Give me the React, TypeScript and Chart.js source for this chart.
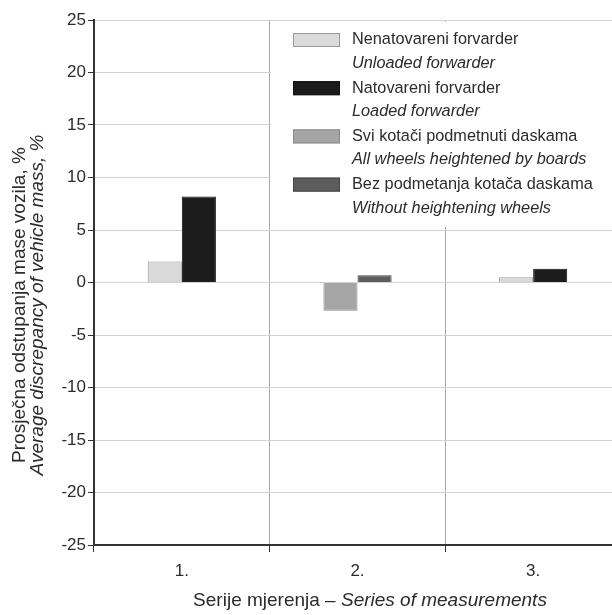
import React, { useEffect, useRef } from "react";
import { Chart, registerables } from "chart.js";

Chart.register(...registerables);

const categories = ["1.", "2.", "3."];
const seriesHr = [
  "Nenatovareni forvarder",
  "Natovareni forvarder",
  "Svi kotači podmetnuti daskama",
  "Bez podmetanja kotača daskama",
];
const seriesEn = [
  "Unloaded forwarder",
  "Loaded forwarder",
  "All wheels heightened by boards",
  "Without heightening wheels",
];
const unloaded = [2.0, null, 0.5];
const loaded = [8.2, null, 1.3];
const allWheels = [null, -2.7, null];
const withoutHeightening = [null, 0.7, null];
const yMin = -25;
const yMax = 25;
const yStep = 5;
const yTitleHr = "Prosječna odstupanja mase vozila, %";
const yTitleEn = "Average discrepancy of vehicle mass, %";
const xTitleHr = "Serije mjerenja – ";
const xTitleEn = "Series of measurements";

const fills = ["#dadada", "#1c1c1c", "#a5a5a5", "#5d5d5d"];
const borders = ["#9a9a9a", "#111111", "#8a8a8a", "#444444"];
const FONT = "'Liberation Sans', Arial, sans-serif";
const TEXT = "#2b2b2b";

const decorPlugin = {
  id: "decor",
  afterDraw(chart: any) {
    const ctx = chart.ctx;
    const area = chart.chartArea;
    ctx.save();
    // legend background
    ctx.fillStyle = "#ffffff";
    ctx.fillRect(271, 22, area.right - 271 + 2, 205);
    // legend entries
    for (let i = 0; i < seriesHr.length; i++) {
      const cy = 40 + i * 48.2;
      ctx.fillStyle = fills[i];
      ctx.fillRect(293, cy - 7, 47, 14);
      ctx.strokeStyle = borders[i];
      ctx.lineWidth = 1;
      ctx.strokeRect(293.5, cy - 6.5, 46, 13);
      ctx.fillStyle = TEXT;
      ctx.textBaseline = "middle";
      ctx.textAlign = "left";
      ctx.font = `16.3px ${FONT}`;
      ctx.fillText(seriesHr[i], 352, cy);
      ctx.font = `italic 16.3px ${FONT}`;
      ctx.fillText(seriesEn[i], 352, cy + 23.5);
    }
    // y title
    ctx.save();
    ctx.translate(20, 305);
    ctx.rotate(-Math.PI / 2);
    ctx.textAlign = "center";
    ctx.textBaseline = "middle";
    ctx.fillStyle = TEXT;
    ctx.font = `19px ${FONT}`;
    ctx.fillText(yTitleHr, 0, 0);
    ctx.font = `italic 19px ${FONT}`;
    ctx.fillText(yTitleEn, 0, 18);
    ctx.restore();
    // x title
    ctx.textBaseline = "middle";
    ctx.textAlign = "left";
    ctx.font = `19px ${FONT}`;
    const w1 = ctx.measureText(xTitleHr).width;
    ctx.font = `italic 19px ${FONT}`;
    const w2 = ctx.measureText(xTitleEn).width;
    const startX = 370 - (w1 + w2) / 2;
    ctx.font = `19px ${FONT}`;
    ctx.fillText(xTitleHr, startX, 601);
    ctx.font = `italic 19px ${FONT}`;
    ctx.fillText(xTitleEn, startX + w1, 601);
    ctx.restore();
  },
};

export default function App() {
  const ref = useRef<HTMLCanvasElement | null>(null);

  useEffect(() => {
    if (!ref.current) return;
    const data = [unloaded, loaded, allWheels, withoutHeightening];
    const chart = new Chart(ref.current, {
      type: "bar",
      data: {
        labels: categories,
        datasets: data.map((d, i) => ({
          label: seriesHr[i],
          data: d,
          backgroundColor: fills[i],
          borderColor: borders[i],
          borderWidth: 1,
          skipNull: true,
          barPercentage: 1,
          categoryPercentage: 0.388,
        })) as any,
      },
      options: {
        responsive: false,
        animation: false,
        devicePixelRatio: 1,
        layout: { padding: { top: 20, right: 0, bottom: 0, left: 0 } },
        plugins: {
          legend: { display: false },
          tooltip: { enabled: false },
          title: { display: false },
        },
        scales: {
          x: {
            offset: true,
            grid: {
              offset: true,
              color: "#a9a9a9",
              lineWidth: 1,
              tickColor: "#333333",
              tickLength: 7,
              drawTicks: true,
            },
            border: { display: true, color: "#333333", width: 2 },
            ticks: {
              color: TEXT,
              font: { family: FONT, size: 17 },
              padding: 9,
            },
            afterFit(scale: any) {
              scale.height = 70;
            },
          },
          y: {
            min: yMin,
            max: yMax,
            ticks: {
              stepSize: yStep,
              color: TEXT,
              font: { family: FONT, size: 17 },
              padding: 2,
            },
            grid: {
              color: "#d2d2d2",
              lineWidth: 1,
              tickColor: "#333333",
              tickLength: 6,
            },
            border: { display: true, color: "#333333", width: 2 },
            afterFit(scale: any) {
              scale.width = 94;
            },
          },
        },
      },
      plugins: [decorPlugin],
    });
    return () => chart.destroy();
  }, []);

  return (
    <div
      style={{
        position: "fixed",
        left: 0,
        top: 0,
        width: 612,
        height: 615,
        overflow: "hidden",
        background: "#ffffff",
      }}
    >
      <canvas ref={ref} width={621} height={615} style={{ width: 621, height: 615, display: "block" }} />
    </div>
  );
}
